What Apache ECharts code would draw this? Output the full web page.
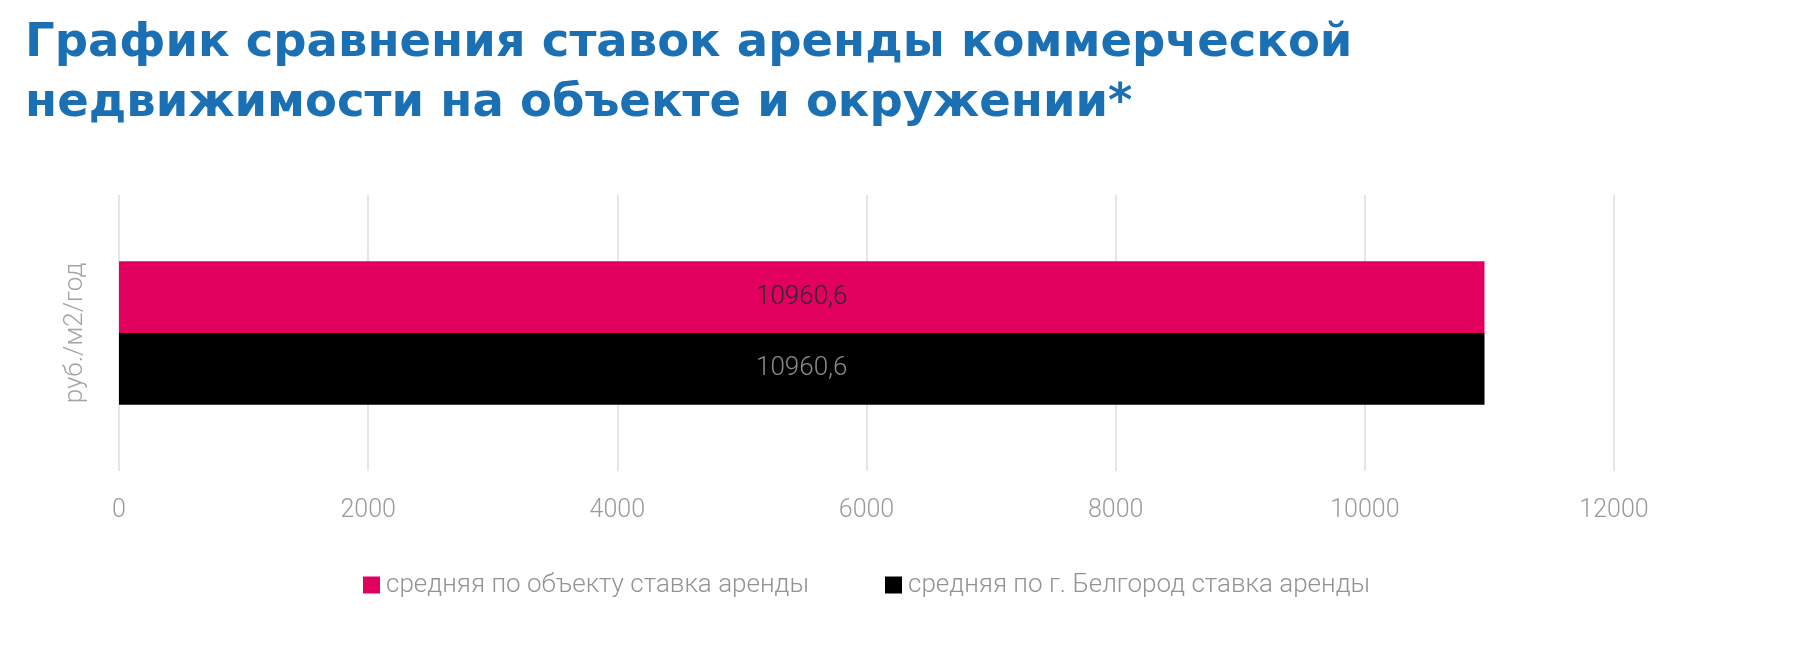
<!DOCTYPE html>
<html>
<head>
<meta charset="utf-8">
<script src="https://cdn.jsdelivr.net/npm/echarts@6/dist/echarts.min.js"></script>
<style>
html,body{margin:0;padding:0;background:#fff;}
#chart{width:1801px;height:670px;}
</style>
</head>
<body>
<div id="chart"></div>
<script>
const titleText = 'График сравнения ставок аренды коммерческой\nнедвижимости на объекте и окружении*';
const categories = ['руб./м2/год'];
const seriesNames = ['средняя по объекту ставка аренды', 'средняя по г. Белгород ставка аренды'];
const objectValues = [10960.6];
const cityValues = [10960.6];
const xTicks = { min: 0, max: 12000, interval: 2000 };

const narrow = "'Roboto', sans-serif";
const fmt = v => String(v).replace('.', ',');
const chart = echarts.init(document.getElementById('chart'), null, { renderer: 'canvas' });
chart.setOption({
  backgroundColor: '#ffffff',
  animation: false,
  title: {
    text: titleText,
    left: 20,
    top: 9,
    textStyle: {
      fontFamily: "'DejaVu Sans', sans-serif",
      fontWeight: 'bold',
      fontSize: 46.5,
      lineHeight: 60,
      color: '#1b6fb3'
    }
  },
  legend: {
    data: seriesNames,
    left: 358,
    top: 567,
    itemWidth: 17,
    itemHeight: 17,
    itemGap: 76,
    icon: 'rect',
    textStyle: { fontFamily: narrow, fontWeight: 300, fontSize: 26, color: '#939393', padding: [0, 0, 0, 1] }
  },
  grid: { left: 119, right: 187, top: 195, bottom: 199, containLabel: false },
  xAxis: {
    type: 'value',
    min: xTicks.min,
    max: xTicks.max,
    interval: xTicks.interval,
    axisLine: { show: false },
    axisTick: { show: false },
    splitLine: { show: true, lineStyle: { color: '#dedede', width: 1.5 } },
    axisLabel: { margin: 27, fontFamily: narrow, fontWeight: 300, fontSize: 25, color: '#9a9a9a', formatter: v => String(v) }
  },
  yAxis: {
    type: 'category',
    data: categories,
    inverse: true,
    axisLine: { show: false },
    axisTick: { show: false },
    axisLabel: { rotate: 90, margin: 31, fontFamily: "'Roboto', sans-serif", fontWeight: 300, fontSize: 26, color: '#a3a3a3' }
  },
  series: [
    {
      name: seriesNames[0],
      type: 'bar',
      data: objectValues,
      barGap: '0%',
      barCategoryGap: '48%',
      itemStyle: { color: '#e2005f' },
      label: { show: true, position: 'inside', formatter: p => fmt(p.value), fontFamily: narrow, fontWeight: 300, fontSize: 26, color: '#2a2a2a' }
    },
    {
      name: seriesNames[1],
      type: 'bar',
      data: cityValues,
      barGap: '0%',
      barCategoryGap: '48%',
      itemStyle: { color: '#000000' },
      label: { show: true, position: 'inside', formatter: p => fmt(p.value), fontFamily: narrow, fontWeight: 300, fontSize: 26, color: '#8a8a8a' }
    }
  ]
});
</script>
</body>
</html>
